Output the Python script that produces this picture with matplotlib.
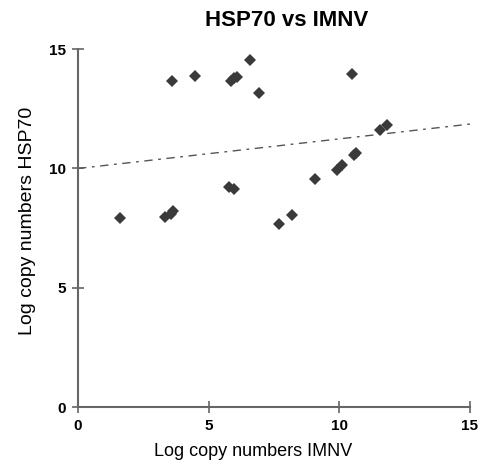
import matplotlib.pyplot as plt
import numpy as np

# Valores
imnv = [1.61, 3.33, 3.55, 3.65, 3.61, 4.47, 5.86, 5.97, 6.08, 6.59, 6.93,
        5.79, 5.97, 7.69, 8.18, 9.07, 9.92, 10.12, 10.55, 10.65, 10.47,
        11.55, 11.84]
hsp70 = [7.92, 7.96, 8.10, 8.20, 13.65, 13.89, 13.66, 13.78, 13.84, 14.54, 13.17,
         9.23, 9.16, 7.67, 8.04, 9.55, 9.93, 10.14, 10.58, 10.66, 13.94,
         11.60, 11.84]

# Linha de tendência (extremos)
trend_x = [0, 15]
trend_y = [10.0, 11.86]

plt.rcParams['font.family'] = ['Liberation Sans', 'DejaVu Sans']

fig = plt.figure(figsize=(4.82, 4.68), dpi=100)
ax = fig.add_axes([0.162, 0.130, 0.813, 0.765])

ax.plot(trend_x, trend_y, color='#555555', linestyle=(0, (6, 4, 2, 4)), linewidth=1.0)
ax.plot(imnv, hsp70, 'D', color='#3a3a3a', markersize=6, markeredgewidth=0)

ax.set_xlim(0, 15)
ax.set_ylim(0, 15)
ax.set_xticks([0, 5, 10, 15])
ax.set_yticks([0, 5, 10, 15])

for s in ['top', 'right']:
    ax.spines[s].set_visible(False)
for s in ['left', 'bottom']:
    ax.spines[s].set_color('#666666')
    ax.spines[s].set_linewidth(1.5)

ax.tick_params(direction='inout', length=9, width=1.2, color='#666666',
               labelsize=11, pad=4)
for lbl in ax.get_xticklabels() + ax.get_yticklabels():
    lbl.set_fontweight('bold')

# Título um pouco à direita do centro dos eixos, como no original
fig.text(0.594, 0.956, 'HSP70 vs IMNV', fontsize=16, fontweight='bold',
         ha='center', va='center')
ax.set_xlabel('Log copy numbers IMNV', fontsize=13)
ax.set_ylabel('Log copy numbers HSP70', fontsize=14)
ax.xaxis.set_label_coords(0.447, -0.1)
ax.yaxis.set_label_coords(-0.108, 0.52)

fig.savefig('out.png', dpi=100)
